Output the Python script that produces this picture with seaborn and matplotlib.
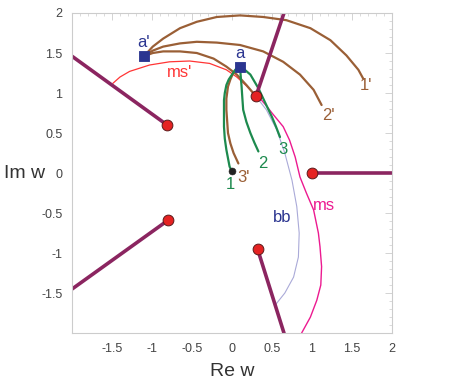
import numpy as np
import pandas as pd
import seaborn as sns
import matplotlib
matplotlib.use("Agg")
import matplotlib.pyplot as plt
from matplotlib.ticker import MultipleLocator

sns.set_style("white")
plt.rcParams['font.family'] = ['Liberation Sans', 'DejaVu Sans']

# ---- data ----
branch_pts_x = [-0.81, -0.80, 0.30, 0.32, 1.00]
branch_pts_y = [0.60, -0.59, 0.96, -0.95, 0.00]
cut_end_x = [-2.00, -2.00, 0.65, 0.65, 2.00]
cut_end_y = [1.46, -1.45, 2.00, -2.00, 0.00]

sq_x = [-1.10, 0.10]
sq_y = [1.46, 1.33]
sq_labels = ["a'", "a"]

origin_x = [0.0]
origin_y = [0.02]

arc1p_x = [-1.10, -0.99, -0.86, -0.65, -0.44, -0.19, 0.10, 0.39, 0.68, 0.98, 1.23, 1.43, 1.58, 1.64]
arc1p_y = [1.46, 1.58, 1.68, 1.81, 1.89, 1.95, 1.97, 1.95, 1.91, 1.81, 1.66, 1.47, 1.29, 1.18]
arc2p_x = [-1.10, -0.99, -0.86, -0.65, -0.44, -0.19, 0.10, 0.39, 0.64, 0.85, 1.02, 1.12]
arc2p_y = [1.46, 1.53, 1.58, 1.62, 1.64, 1.63, 1.60, 1.52, 1.39, 1.23, 1.04, 0.85]
arc3p_x = [-1.10, -0.99, -0.86, -0.65, -0.44, -0.23, -0.07, 0.06, 0.18, 0.30]
arc3p_y = [1.46, 1.50, 1.52, 1.52, 1.50, 1.43, 1.33, 1.23, 1.10, 0.96]
arc3p_tail_x = [0.02, -0.02, -0.05, -0.07, -0.07, -0.05, -0.02, 0.02, 0.08]
arc3p_tail_y = [1.26, 1.17, 1.08, 0.93, 0.79, 0.50, 0.37, 0.25, 0.12]

g1_x = [0.10, 0.04, 0.00, -0.04, -0.07, -0.09, -0.10, -0.10, -0.09, -0.07, -0.03, 0.00]
g1_y = [1.34, 1.29, 1.23, 1.17, 1.10, 1.00, 0.91, 0.58, 0.43, 0.29, 0.08, 0.02]
g2_x = [0.10, 0.11, 0.12, 0.13, 0.14, 0.18, 0.23, 0.28, 0.33]
g2_y = [1.33, 1.20, 1.08, 0.93, 0.79, 0.64, 0.50, 0.38, 0.27]
g3_x = [0.10, 0.16, 0.23, 0.33, 0.41, 0.50, 0.55, 0.60]
g3_y = [1.33, 1.29, 1.23, 1.06, 0.89, 0.70, 0.58, 0.45]

msp_x = [-1.49, -1.40, -1.28, -1.03, -0.78, -0.53, -0.28, -0.07, 0.06, 0.18, 0.30]
msp_y = [1.12, 1.20, 1.27, 1.35, 1.39, 1.40, 1.37, 1.29, 1.20, 1.09, 0.96]
ms_x = [0.30, 0.37, 0.43, 0.50, 0.64, 0.72, 0.79, 0.85, 0.93, 1.02, 1.08, 1.10, 1.12, 1.11, 1.06, 0.98, 0.87]
ms_y = [0.96, 0.91, 0.84, 0.75, 0.58, 0.41, 0.20, -0.05, -0.25, -0.46, -0.75, -0.92, -1.17, -1.40, -1.59, -1.80, -2.00]
bb_x = [0.30, 0.36, 0.43, 0.56, 0.66, 0.75, 0.81, 0.84, 0.83, 0.77, 0.66, 0.54]
bb_y = [0.96, 0.88, 0.79, 0.54, 0.25, -0.09, -0.42, -0.75, -1.05, -1.30, -1.50, -1.65]

text_labels = ["ms'", "1'", "2'", "3'", "1", "2", "3", "ms", "bb"]
text_x = [-0.65, 1.68, 1.20, 0.15, -0.02, 0.38, 0.64, 1.15, 0.63]
text_y = [1.26, 1.10, 0.72, -0.05, -0.14, 0.12, 0.30, -0.41, -0.55]

ticks = [-1.5, -1, -0.5, 0, 0.5, 1, 1.5, 2]
tick_labels = ["-1.5", "-1", "-0.5", "0", "0.5", "1", "1.5", "2"]

# ---- colours ----
BROWN = "#9a5f36"
GREEN = "#1d8a4e"
CUT = "#8b2560"
RED = "#e52222"
BLUE = "#2b3590"
MSP = "#ff3535"
MS = "#ec1a90"
BB = "#aaaad8"
label_colors = [MSP, BROWN, BROWN, BROWN, GREEN, GREEN, GREEN, MS, BLUE]

fig = plt.figure(figsize=(4.72, 3.82), dpi=100)
ax = fig.add_axes([0.1525, 0.128, 0.678, 0.838])

def curve(xs, ys, color, lw):
    df = pd.DataFrame({"x": xs, "y": ys})
    sns.lineplot(data=df, x="x", y="y", sort=False, estimator=None,
                 color=color, lw=lw, ax=ax, solid_joinstyle="round",
                 solid_capstyle="round")

curve(bb_x, bb_y, BB, 0.8)
curve(ms_x, ms_y, MS, 1.0)
curve(msp_x, msp_y, MSP, 0.9)
curve(arc1p_x, arc1p_y, BROWN, 1.6)
curve(arc2p_x, arc2p_y, BROWN, 1.6)
curve(arc3p_x, arc3p_y, BROWN, 1.6)
curve(arc3p_tail_x, arc3p_tail_y, BROWN, 1.6)
curve(g1_x, g1_y, GREEN, 1.6)
curve(g2_x, g2_y, GREEN, 1.6)
curve(g3_x, g3_y, GREEN, 1.6)

for bx, by, ex, ey in zip(branch_pts_x, branch_pts_y, cut_end_x, cut_end_y):
    curve([bx, ex], [by, ey], CUT, 2.6)

sns.scatterplot(x=branch_pts_x, y=branch_pts_y, s=60, color=RED,
                edgecolor="#5a1a1a", linewidth=0.7, ax=ax, zorder=5)
sns.scatterplot(x=origin_x, y=origin_y, s=25, color="#222222",
                edgecolor="#222222", ax=ax, zorder=5)
sns.scatterplot(x=sq_x, y=sq_y, s=60, marker="s", color=BLUE,
                edgecolor=BLUE, ax=ax, zorder=5)

for sx, sy, lab in zip(sq_x, sq_y, sq_labels):
    ax.text(sx, sy + 0.17, lab, color=BLUE, fontsize=12, ha="center", va="center")
for tx, ty, lab, c in zip(text_x, text_y, text_labels, label_colors):
    ax.text(tx, ty, lab, color=c, fontsize=12, ha="center", va="center")

ax.set_xlim(-2, 2)
ax.set_ylim(-2, 2)
ax.set_xticks(ticks)
ax.set_xticklabels(tick_labels)
ax.set_yticks(ticks)
ax.set_yticklabels(tick_labels)
ax.xaxis.set_minor_locator(MultipleLocator(0.1))
ax.yaxis.set_minor_locator(MultipleLocator(0.1))
ax.tick_params(which="both", direction="in", colors="#cccccc", labelcolor="#444444",
               top=True, right=True, labelsize=9, pad=7)
ax.tick_params(which="major", length=5, width=0.6)
ax.tick_params(which="minor", length=2.5, width=0.5)
for sp in ax.spines.values():
    sp.set_color("#cccccc")
    sp.set_linewidth(0.8)

ax.set_xlabel("Re w", fontsize=14, color="#333333", labelpad=6)
ax.set_ylabel("Im w", fontsize=14, color="#333333", rotation=0,
              ha="center", va="center")
ax.yaxis.set_label_coords(-0.147, 0.5)

fig.savefig("out.png", dpi=100)
